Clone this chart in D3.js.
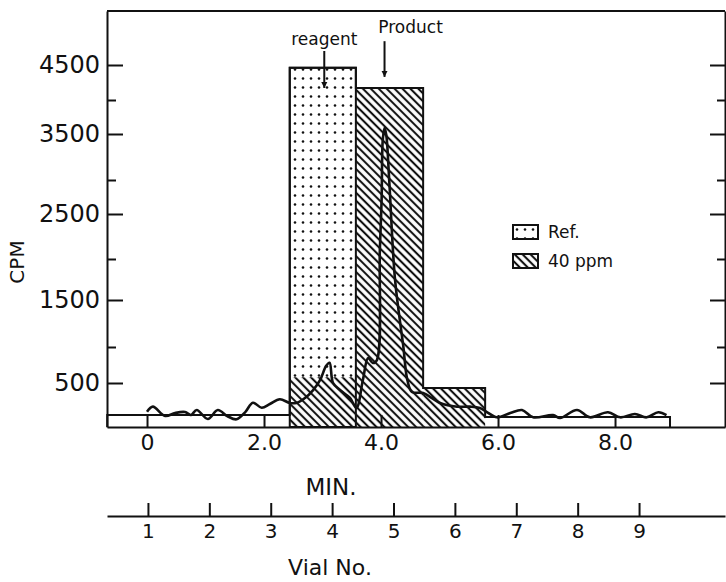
<!DOCTYPE html>
<html>
<head>
<meta charset="utf-8">
<script src="https://cdn.jsdelivr.net/npm/d3@7/dist/d3.min.js"></script>
<style>
    body { margin: 0; background: #fff; }
    text { font-family: "DejaVu Sans", sans-serif; fill: #111; }
    .axis path, .axis line { stroke: #111; stroke-width: 2; }
</style>
</head>
<body>
<div class="chart-container"></div>
<script>
// vial counts, binned by elution time (min)
const binEdges = [-0.68, 2.44, 3.57, 4.72, 5.78, 8.94];
const refCpm = [0, 4460, 0, 0, 0];
const ppmCpm = [0, 580, 4170, 443, 0];
const bkgCpm = [136, 0, 0, 0, 114];

// flow detector trace
const traceMin = [0.00, 0.10, 0.31, 0.48, 0.65, 0.75, 0.85, 1.04, 1.21, 1.37,
    1.53, 1.68, 1.81, 1.96, 2.10, 2.27, 2.44, 2.55, 2.70, 2.84,
    2.96, 3.06, 3.12, 3.18, 3.30, 3.47, 3.58, 3.69, 3.78, 3.86,
    3.93, 3.98, 4.01, 4.03, 4.06, 4.09, 4.14, 4.24, 4.38, 4.45,
    4.53, 4.72, 5.01, 5.30, 5.52, 5.69, 5.81, 5.98, 6.21, 6.41,
    6.60, 6.94, 7.06, 7.35, 7.57, 7.88, 8.09, 8.34, 8.54, 8.74, 8.88];
const traceCpm = [174, 231, 125, 159, 170, 136, 193, 91, 193, 125,
    87, 170, 276, 219, 261, 315, 273, 273, 330, 420,
    542, 736, 782, 500, 420, 330, 216, 542, 847, 778,
    819, 2100, 2706, 3435, 3588, 3489, 3000, 1744, 1011, 542,
    398, 386, 273, 231, 231, 216, 170, 110, 159, 193,
    110, 136, 102, 193, 110, 167, 110, 148, 110, 167, 136];

const cpmTicks = [500, 1500, 2500, 3500, 4500];
const cpmMinor = [1000, 2000, 3000, 4000];
const minTicks = [0, 2, 4, 6, 8];
const vialTicks = [1, 2, 3, 4, 5, 6, 7, 8, 9];
const legendItems = ["Ref.", "40 ppm"];

// 畫布尺寸
const svg_width = 726;
const svg_height = 582;
const chart_margin = { top: 11, right: 1, bottom: 155, left: 107 };
const chart_width = svg_width - (chart_margin.left + chart_margin.right);
const chart_height = svg_height - (chart_margin.top + chart_margin.bottom);

const svg = d3.select(".chart-container").append("svg")
    .attr("width", svg_width)
    .attr("height", svg_height);

const defs = svg.append("defs");
const dots = defs.append("pattern").attr("id", "dots")
    .attr("patternUnits", "userSpaceOnUse").attr("width", 8).attr("height", 9);
dots.append("rect").attr("width", 8).attr("height", 9).attr("fill", "#fff");
dots.append("circle").attr("cx", 4).attr("cy", 4.5).attr("r", 1.3).attr("fill", "#111");

const hatch = defs.append("pattern").attr("id", "hatch")
    .attr("patternUnits", "userSpaceOnUse").attr("width", 5.6).attr("height", 10)
    .attr("patternTransform", "rotate(-45)");
hatch.append("rect").attr("width", 5.6).attr("height", 10).attr("fill", "#fff");
hatch.append("line").attr("x1", 2.8).attr("x2", 2.8).attr("y1", 0).attr("y2", 10)
    .attr("stroke", "#111").attr("stroke-width", 2.1);

const g = svg.append("g")
    .attr("transform", `translate(${chart_margin.left},${chart_margin.top})`);

// scales (the printed cpm axis is hand ruled, so it is piecewise)
const xScale = d3.scaleLinear([-0.684, 9.88], [0, chart_width]);
const yScale = d3.scaleLinear()
    .domain([0, 500, 1000, 1500, 2000, 2500, 3000, 3500, 4000, 4500, 5271])
    .range([chart_height, 372, 336, 289, 248, 203, 169, 123, 89, 54, 0]);
const vialScale = d3.scaleLinear([0.333, 10.4], [0, chart_width]);

const bins = binEdges.slice(0, -1).map((x0, i) => ({
    x0, x1: binEdges[i + 1], ref: refCpm[i], ppm: ppmCpm[i], bkg: bkgCpm[i]
}));

function barRect(sel, key, fill) {
    sel.selectAll(`.bar-${key}`).data(bins.filter(d => d[key] > 0)).join("rect")
        .attr("class", `bar-${key}`)
        .attr("x", d => xScale(d.x0))
        .attr("width", d => xScale(d.x1) - xScale(d.x0))
        .attr("y", d => yScale(d[key]))
        .attr("height", d => yScale(0) - yScale(d[key]))
        .attr("fill", fill);
}
const bars = g.append("g").attr("class", "bars");
barRect(bars, "bkg", "#fff");
barRect(bars, "ref", "url(#dots)");
barRect(bars, "ppm", "url(#hatch)");

// outlines: ref bars, plus the skyline of all bins
bars.selectAll(".ref-edge").data(bins.filter(d => d.ref > 0)).join("rect")
    .attr("class", "ref-edge")
    .attr("x", d => xScale(d.x0))
    .attr("width", d => xScale(d.x1) - xScale(d.x0))
    .attr("y", d => yScale(d.ref))
    .attr("height", d => yScale(0) - yScale(d.ref))
    .attr("fill", "none").attr("stroke", "#111").attr("stroke-width", 2);

const sky = [[binEdges[0], 0]];
bins.forEach(d => {
    const top = d3.max([d.ref, d.ppm, d.bkg]);
    sky.push([d.x0, top], [d.x1, top]);
});
sky.push([binEdges[binEdges.length - 1], 0]);
bars.append("path")
    .attr("d", d3.line().x(d => xScale(d[0])).y(d => yScale(d[1]))(sky))
    .attr("fill", "none").attr("stroke", "#111").attr("stroke-width", 2);

// trace
const trace = traceMin.map((t, i) => [t, traceCpm[i]]);
g.append("path")
    .attr("d", d3.line().x(d => xScale(d[0])).y(d => yScale(d[1]))
        .curve(d3.curveCatmullRom.alpha(0.5))(trace))
    .attr("fill", "none").attr("stroke", "#111").attr("stroke-width", 2.6)
    .attr("stroke-linejoin", "round");

// axes
g.append("g").attr("class", "axis")
    .call(d3.axisLeft(yScale).tickValues(cpmTicks).tickSizeInner(-16).tickSizeOuter(0).tickPadding(7)
        .tickFormat(d3.format("d")))
    .call(a => a.selectAll("text").style("font-size", "24px").style("fill", "#111"));
g.append("g").attr("class", "axis")
    .call(d3.axisLeft(yScale).tickValues(cpmMinor).tickSizeInner(-9).tickSizeOuter(0).tickFormat(""))
    .call(a => a.select(".domain").remove());

g.append("g").attr("class", "axis").attr("transform", `translate(${chart_width},0)`)
    .call(d3.axisRight(yScale).tickValues(cpmTicks).tickSizeInner(-15).tickSizeOuter(0).tickFormat(""));
g.append("g").attr("class", "axis").attr("transform", `translate(${chart_width},0)`)
    .call(d3.axisRight(yScale).tickValues(cpmMinor).tickSizeInner(-8).tickSizeOuter(0).tickFormat(""))
    .call(a => a.select(".domain").remove());

g.append("line").attr("x1", 0).attr("x2", chart_width).attr("y1", 0).attr("y2", 0)
    .attr("stroke", "#111").attr("stroke-width", 2);

g.append("g").attr("class", "axis").attr("transform", `translate(0,${chart_height})`)
    .call(d3.axisBottom(xScale).tickValues(minTicks).tickSizeInner(-12).tickSizeOuter(0).tickPadding(7)
        .tickFormat(d => d === 0 ? "0" : d3.format(".1f")(d)))
    .call(a => a.selectAll("text").style("font-size", "22px").style("fill", "#111"));

g.append("g").attr("class", "axis").attr("transform", `translate(0,${505})`)
    .call(d3.axisBottom(vialScale).tickValues(vialTicks).tickSizeInner(-13).tickSizeOuter(0).tickPadding(8))
    .call(a => a.selectAll("text").style("font-size", "20px").style("fill", "#111"));

// titles
svg.append("text").attr("x", 331).attr("y", 495).attr("text-anchor", "middle")
    .style("font-size", "23px").text("MIN.");
svg.append("text").attr("x", 330).attr("y", 575).attr("text-anchor", "middle")
    .style("font-size", "22px").text("Vial No.");
svg.append("text").attr("transform", "translate(24,262) rotate(-90)").attr("text-anchor", "middle")
    .style("font-size", "20px").text("CPM");

// annotations
defs.append("marker").attr("id", "head").attr("viewBox", "0 0 10 10")
    .attr("refX", 10).attr("refY", 5).attr("markerWidth", 3.2).attr("markerHeight", 4.5)
    .attr("orient", "auto").attr("markerUnits", "strokeWidth")
    .append("path").attr("d", "M0,0L10,5L0,10z").attr("fill", "#111");

const notes = [
    { label: "reagent", t: 3.03, textCpm: 4790, from: 4700, to: 4171 },
    { label: "Product", t: 4.06, textCpm: 4950, from: 4840, to: 4330 }
];
notes.forEach(n => {
    g.append("text").attr("x", xScale(n.t) + (n.label === "Product" ? 26 : 0))
        .attr("y", yScale(n.textCpm)).attr("text-anchor", "middle")
        .style("font-size", "17px").text(n.label);
    g.append("line").attr("x1", xScale(n.t)).attr("x2", xScale(n.t))
        .attr("y1", yScale(n.from)).attr("y2", yScale(n.to))
        .attr("stroke", "#111").attr("stroke-width", 2).attr("marker-end", "url(#head)");
});

// legend
const legend = svg.append("g").attr("transform", "translate(513,225)");
legend.selectAll("rect").data(legendItems).join("rect")
    .attr("x", 0).attr("y", (d, i) => i * 29)
    .attr("width", 25).attr("height", 14)
    .attr("fill", (d, i) => i === 0 ? "url(#dots)" : "url(#hatch)")
    .attr("stroke", "#111").attr("stroke-width", 2);
legend.selectAll("text").data(legendItems).join("text")
    .attr("x", 35).attr("y", (d, i) => i * 29 + 13)
    .style("font-size", "17px").text(d => d);
</script>
</body>
</html>
